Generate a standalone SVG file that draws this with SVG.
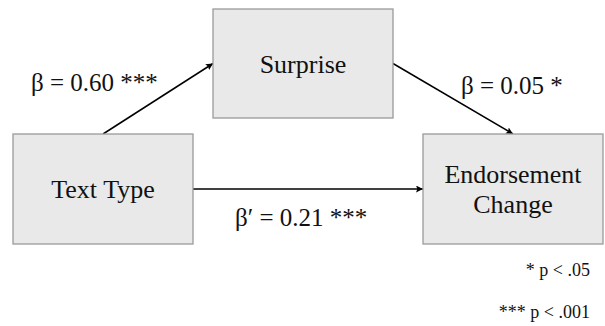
<svg xmlns="http://www.w3.org/2000/svg" width="605" height="326" viewBox="0 0 605 326">
  <style>
    .box { fill: #e9e9e9; stroke: #9a9a9a; stroke-width: 1.3; }
    .node-text { font-family: "Liberation Serif", "Times New Roman", serif; font-size: 26px; fill: #111; text-anchor: middle; }
    .label { font-family: "Liberation Serif", "Times New Roman", serif; font-size: 25px; fill: #111; }
    .note { font-family: "Liberation Serif", "Times New Roman", serif; font-size: 18px; fill: #111; text-anchor: end; }
    .edge { stroke: #000; stroke-width: 1.5; fill: none; marker-end: url(#head); }
  </style>
  <defs>
    <marker id="head" viewBox="0 0 10 10" refX="10" refY="5" markerWidth="7" markerHeight="7" markerUnits="userSpaceOnUse" orient="auto">
      <path d="M0,0 L10,5 L0,10 L2,5 Z" fill="#000"/>
    </marker>
  </defs>

  <!-- connectors -->
  <g id="connectors">
    <line class="edge" x1="103" y1="134" x2="213" y2="63.5"/>
    <line class="edge" x1="393" y1="63.5" x2="513" y2="134"/>
    <line class="edge" x1="193" y1="189" x2="423" y2="189"/>
  </g>

  <!-- nodes -->
  <g id="surprise">
    <rect class="box" x="213" y="9" width="180" height="109"/>
    <text class="node-text" x="303" y="73">Surprise</text>
  </g>
  <g id="text-type">
    <rect class="box" x="13" y="134" width="180" height="110"/>
    <text class="node-text" x="103" y="198">Text Type</text>
  </g>
  <g id="endorsement-change">
    <rect class="box" x="423" y="134" width="180" height="110"/>
    <text class="node-text" x="513" y="183">Endorsement</text>
    <text class="node-text" x="513" y="213">Change</text>
  </g>

  <!-- path coefficients -->
  <g id="labels">
    <text class="label" x="31" y="91">β = 0.60 ***</text>
    <text class="label" x="461" y="94">β = 0.05 *</text>
    <text class="label" x="235" y="226">β′ = 0.21 ***</text>
  </g>

  <!-- significance legend -->
  <g id="legend">
    <text class="note" x="590" y="276">* p &lt; .05</text>
    <text class="note" x="590" y="318">*** p &lt; .001</text>
  </g>
</svg>
